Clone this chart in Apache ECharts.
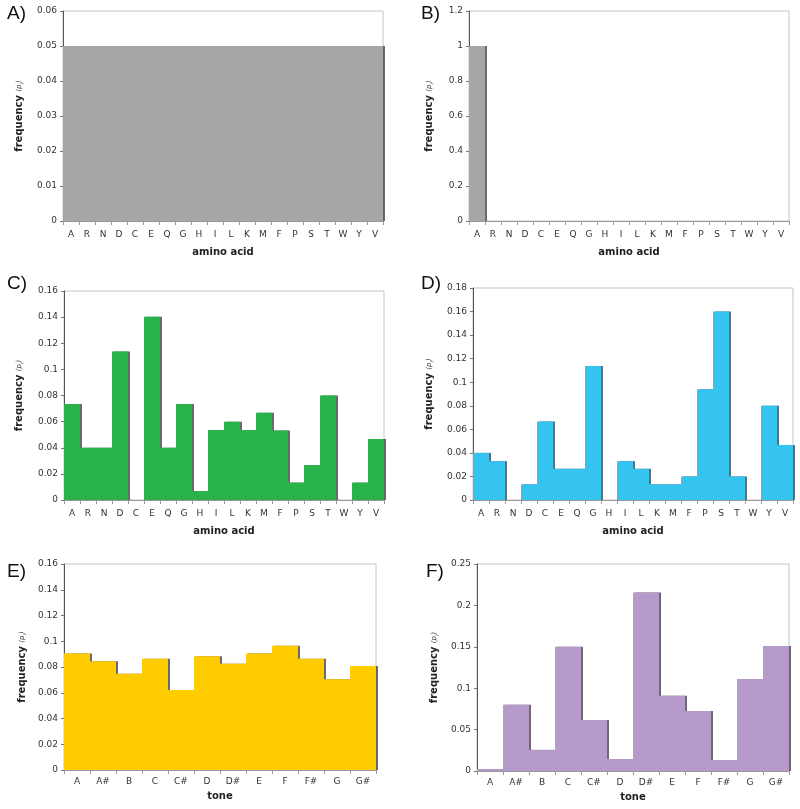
<!DOCTYPE html>
<html>
<head>
<meta charset="utf-8">
<script src="https://cdn.jsdelivr.net/npm/echarts@6/dist/echarts.min.js"></script>
<style>html,body{margin:0;padding:0;background:#fff;}#c{width:800px;height:809px;}</style>
</head>
<body>
<div id="c"></div>
<script>
var aminoAcids = ['A','R','N','D','C','E','Q','G','H','I','L','K','M','F','P','S','T','W','Y','V'];
var tones = ['A','A#','B','C','C#','D','D#','E','F','F#','G','G#'];

var valuesA = [0.05,0.05,0.05,0.05,0.05,0.05,0.05,0.05,0.05,0.05,0.05,0.05,0.05,0.05,0.05,0.05,0.05,0.05,0.05,0.05];
var valuesB = [1,0,0,0,0,0,0,0,0,0,0,0,0,0,0,0,0,0,0,0];
var valuesC = [0.0735,0.040,0.040,0.1137,0,0.1403,0.040,0.0735,0.0068,0.0535,0.060,0.0535,0.0667,0.0533,0.0133,0.0267,0.080,0,0.0133,0.0467];
var valuesD = [0.040,0.033,0,0.0133,0.0667,0.0265,0.0265,0.1137,0,0.033,0.0265,0.0133,0.0133,0.020,0.094,0.160,0.020,0,0.080,0.0467];
var valuesE = [0.0905,0.0845,0.0747,0.0864,0.0622,0.0884,0.0825,0.0905,0.0965,0.0864,0.0705,0.0807];
var valuesF = [0.002,0.080,0.0255,0.150,0.0615,0.0145,0.2157,0.091,0.0725,0.0132,0.111,0.151];

var yMax = [0.06, 1.2, 0.16, 0.18, 0.16, 0.25];
var yInterval = [0.01, 0.2, 0.02, 0.02, 0.02, 0.05];
var panelLetters = ['A)','B)','C)','D)','E)','F)'];
var xNames = ['amino acid','amino acid','amino acid','amino acid','tone','tone'];

var panels = [
  {cats: aminoAcids, vals: valuesA, color: '#a6a6a6'},
  {cats: aminoAcids, vals: valuesB, color: '#a6a6a6'},
  {cats: aminoAcids, vals: valuesC, color: '#29b34a'},
  {cats: aminoAcids, vals: valuesD, color: '#35c3f0'},
  {cats: tones, vals: valuesE, color: '#ffcc00'},
  {cats: tones, vals: valuesF, color: '#b69acb'}
];

var layout = [
  {left: 63, top: 11, width: 320, height: 210, yGap: 38, xGap: 26, lm: 9},
  {left: 469, top: 11, width: 320, height: 210, yGap: 34, xGap: 26, lm: 9},
  {left: 64, top: 291, width: 320, height: 209, yGap: 39, xGap: 26, lm: 9},
  {left: 473, top: 288, width: 320, height: 212, yGap: 38, xGap: 26, lm: 9},
  {left: 64, top: 564, width: 312, height: 206, yGap: 36, xGap: 21, lm: 7},
  {left: 477, top: 564, width: 312, height: 207, yGap: 37, xGap: 21, lm: 7}
];
var letterPos = [[7,15],[421,15],[7,285],[421,285],[7,573],[426,573]];

var grids = [], xAxes = [], yAxes = [], series = [], graphics = [];
panels.forEach(function(p, i){
  var L = layout[i];
  grids.push({left: L.left, top: L.top, width: L.width, height: L.height, show: true, borderColor: '#c4c4c4', borderWidth: 1, backgroundColor: 'transparent'});
  xAxes.push({
    type: 'category', gridIndex: i, data: p.cats, boundaryGap: true,
    name: xNames[i], nameLocation: 'middle', nameGap: L.xGap,
    nameTextStyle: {fontFamily: 'DejaVu Sans', fontWeight: 'bold', fontSize: 10, color: '#222', verticalAlign: 'top'},
    axisLine: {lineStyle: {color: '#999', width: 1}},
    axisTick: {show: true, alignWithLabel: false, length: 4, lineStyle: {color: '#999'}},
    axisLabel: {interval: 0, fontFamily: 'DejaVu Sans', fontSize: 9, color: '#333', margin: L.lm},
    splitLine: {show: false}
  });
  yAxes.push({
    type: 'value', gridIndex: i, min: 0, max: yMax[i], interval: yInterval[i],
    name: '{b|frequency} {s|(p}{si|i}{s|)}', nameLocation: 'middle', nameGap: L.yGap, nameRotate: 90,
    nameTextStyle: {rich: {
      b: {fontFamily: 'DejaVu Sans', fontWeight: 'bold', fontSize: 10, color: '#222'},
      s: {fontFamily: 'DejaVu Sans', fontStyle: 'italic', fontSize: 7, color: '#333'},
      si: {fontFamily: 'DejaVu Sans', fontStyle: 'italic', fontSize: 5, color: '#333', verticalAlign: 'bottom'}
    }},
    axisLine: {show: true, lineStyle: {color: '#555', width: 1}},
    axisTick: {show: true, length: 3, lineStyle: {color: '#777'}},
    axisLabel: {fontFamily: 'DejaVu Sans', fontSize: 9, color: '#333', margin: 6},
    splitLine: {show: false}
  });
  series.push({
    type: 'bar', xAxisIndex: i, yAxisIndex: i, data: p.vals,
    barCategoryGap: '0%', barGap: '0%',
    itemStyle: {color: p.color, shadowColor: 'rgba(70,70,70,0.8)', shadowOffsetX: 2, shadowOffsetY: 0, shadowBlur: 0},
    emphasis: {disabled: true},
    animation: false
  });
  graphics.push({
    type: 'text', left: letterPos[i][0], top: letterPos[i][1] - 11,
    style: {text: panelLetters[i], font: '19px "Liberation Sans", Arial, sans-serif', fill: '#111'}
  });
});

var chart = echarts.init(document.getElementById('c'), null, {renderer: 'canvas'});
chart.setOption({
  animation: false,
  backgroundColor: '#fff',
  grid: grids, xAxis: xAxes, yAxis: yAxes, series: series, graphic: graphics
});
</script>
</body>
</html>
